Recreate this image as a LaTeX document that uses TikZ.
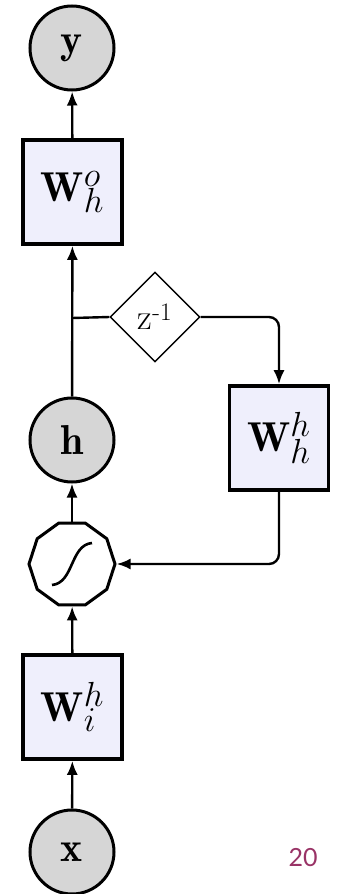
\documentclass[tikz,border=0pt]{standalone}
\usepackage{graphicx}
\usepackage{fontspec}
\newfontfamily\pagenumfont{Lato}
\usetikzlibrary{shapes.geometric,arrows.meta}
\definecolor{boxfill}{HTML}{EFEFFC}
\definecolor{unitfill}{HTML}{D6D6D6}
\definecolor{pagenum}{HTML}{993366}
% large math labels: set at \Huge and enlarged
\newcommand{\biglabel}[1]{\scalebox{1.68}{\Huge$#1$}}
\begin{document}
\begin{tikzpicture}[x=1pt,y=-1pt,
  unit/.style={circle,draw,line width=3pt,fill=unitfill,minimum size=84pt,inner sep=0pt},
  wbox/.style={rectangle,draw,line width=3.6pt,fill=boxfill,minimum width=99pt,minimum height=104pt,
    inner sep=0pt},
  delay/.style={diamond,draw,line width=1.4pt,fill=white,minimum width=90pt,minimum height=90pt,
    inner sep=0pt,font=\fontsize{36}{38}\selectfont},
  act/.style={regular polygon,regular polygon sides=10,draw,line width=3pt,fill=white,
    minimum size=86pt,inner sep=0pt},
  conn/.style={line width=2.4pt,-{Latex[length=14pt,width=11pt]}},
  wire/.style={line width=2.4pt}]
\useasboundingbox (0,0) rectangle (339,894);

% layers
\node[unit] (y) at (72,48) {\biglabel{\mathbf{y}}};
\node[wbox] (Who) at (72.5,192) {\biglabel{\mathbf{W}_h^o}};
\node[unit] (h) at (72,440) {\biglabel{\mathbf{h}}};
\node[act] (sig) at (72,564) {};
\node[wbox] (Wih) at (72.5,707) {\biglabel{\mathbf{W}_i^h}};
\node[unit] (x) at (72,852) {\biglabel{\mathbf{x}}};

% recurrent branch
\node[delay] (z) at (155,317) {z\textsuperscript{-1}};
\node[wbox] (Whh) at (279,438) {\biglabel{\mathbf{W}_h^h}};
\coordinate (br) at (72,318);

% sigmoid curve inside the activation unit
\draw[line width=2.6pt] (52,585) .. controls (74,583) and (70,545) .. (92,543);

% connectors
\draw[conn] (x) -- (Wih);
\draw[conn] (Wih) -- (sig);
\draw[conn] (sig) -- (h);
\draw[conn] (h) -- (Who);
\draw[conn] (Who) -- (y);
\draw[wire] (br) -- (z.west);
\draw[conn,rounded corners=10pt] (z.east) -| (Whh.north);
\draw[conn,rounded corners=10pt] (Whh.south) |- (sig.east);

% page number
\node[text=pagenum,font=\pagenumfont\fontsize{25}{27}\selectfont] (pg) at (303,858) {20};
\end{tikzpicture}
\end{document}
